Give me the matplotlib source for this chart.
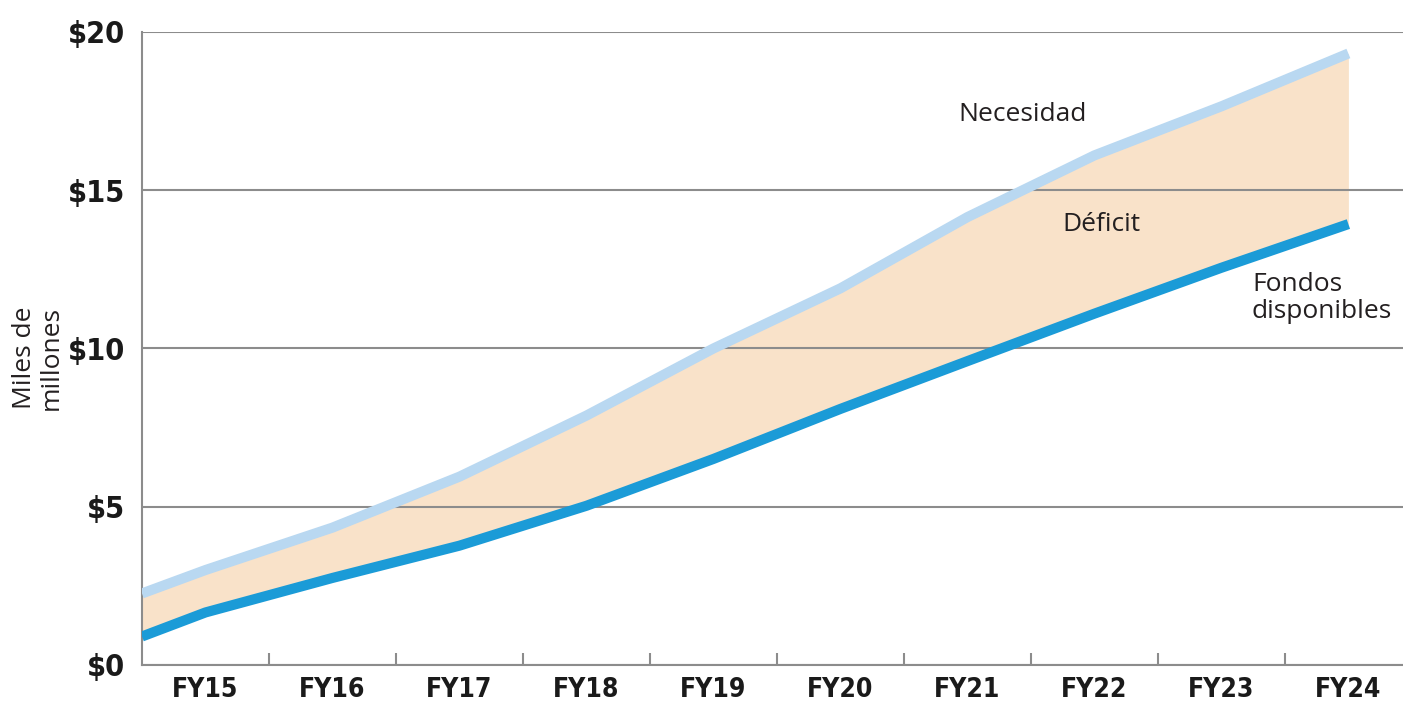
import matplotlib
matplotlib.use("Agg")
import matplotlib.pyplot as plt
from matplotlib import font_manager

# fiscal years (category labels) and line positions in category units
years = ["FY15", "FY16", "FY17", "FY18", "FY19", "FY20", "FY21", "FY22", "FY23", "FY24"]
x_pos = [0, 0.5, 1.5, 2.5, 3.5, 4.5, 5.5, 6.5, 7.5, 8.5, 9.5]

# billions of dollars
necesidad = [2.26, 3.0, 4.34, 5.95, 7.88, 10.0, 11.9, 14.15, 16.1, 17.65, 19.32]
fondos = [0.9, 1.66, 2.75, 3.77, 5.03, 6.51, 8.09, 9.6, 11.1, 12.55, 13.93]

y_ticks = [0, 5, 10, 15, 20]
y_labels = ["$0", "$5", "$10", "$15", "$20"]

# look for a condensed bold face for the tick labels, otherwise DejaVu bold
cond = None
for f in font_manager.fontManager.ttflist:
    narrow = ("Condensed" in f.name or "Narrow" in f.name
              or f.stretch in ("condensed", "extra-condensed", "ultra-condensed"))
    w = f.weight if isinstance(f.weight, int) else (700 if "bold" in str(f.weight).lower() else 400)
    if narrow and w >= 700 and "Oblique" not in f.fname and "Italic" not in f.fname:
        cond = f.fname
        break

if cond:
    tick_fp = font_manager.FontProperties(fname=cond)
    ysize, xsize = 22, 19
else:
    tick_fp = font_manager.FontProperties(family="DejaVu Sans", weight="bold")
    ysize, xsize = 19, 16
text_font = ["Open Sans", "DejaVu Sans"]

fig = plt.figure(figsize=(14.03, 7.10), dpi=100)
ax = fig.add_axes([0.1012, 0.0634, 0.8988, 0.8916])

ax.fill_between(x_pos, fondos, necesidad, color="#f9e2c9", linewidth=0, zorder=1)
ax.plot(x_pos, necesidad, color="#b9d8f1", linewidth=7.3, solid_capstyle="butt", zorder=3)
ax.plot(x_pos, fondos, color="#1b9bd7", linewidth=7.3, solid_capstyle="butt", zorder=3)

ax.set_xlim(0, 9.93)
ax.set_ylim(0, 20)

# y axis
ax.set_yticks(y_ticks)
ax.set_yticklabels([s.replace("$", r"\$") for s in y_labels])
for lab in ax.get_yticklabels():
    lab.set_fontproperties(tick_fp)
    lab.set_fontsize(ysize)
    lab.set_color("#1a1a1a")
ax.tick_params(axis="y", length=0, pad=12)
ax.set_axisbelow("line")
ax.grid(axis="y", color="#8c8c8c", linewidth=1.5)

# x axis: ticks between categories, labels centred in each category
ax.set_xticks(range(1, 10))
ax.set_xticklabels([])
ax.set_xticks([i + 0.5 for i in range(len(years))], minor=True)
ax.set_xticklabels(years, minor=True)
for lab in ax.get_xticklabels(minor=True):
    lab.set_fontproperties(tick_fp)
    lab.set_fontsize(xsize)
    lab.set_color("#1a1a1a")
ax.tick_params(axis="x", which="major", direction="in", length=9, width=1.5, color="#8c8c8c")
ax.tick_params(axis="x", which="minor", length=0, pad=9)

for side in ["top", "right"]:
    ax.spines[side].set_visible(False)
for side in ["left", "bottom"]:
    ax.spines[side].set_color("#8c8c8c")
    ax.spines[side].set_linewidth(1.5)

# annotations
ax.text(6.43, 17.4, "Necesidad", fontfamily=text_font, fontsize=19, color="#231f20",
        ha="left", va="center")
ax.text(7.25, 13.92, "Déficit", fontfamily=text_font, fontsize=19, color="#231f20",
        ha="left", va="center")
ax.text(8.74, 11.6, "Fondos\ndisponibles", fontfamily=text_font, fontsize=19,
        color="#231f20", ha="left", va="center", linespacing=1.1)

fig.text(38 / 1403, 1 - 358 / 710, "Miles de\nmillones", rotation=90, fontfamily=text_font,
         fontsize=19, color="#231f20", ha="center", va="center", multialignment="center",
         linespacing=1.1)

fig.savefig("out.png", dpi=100)
